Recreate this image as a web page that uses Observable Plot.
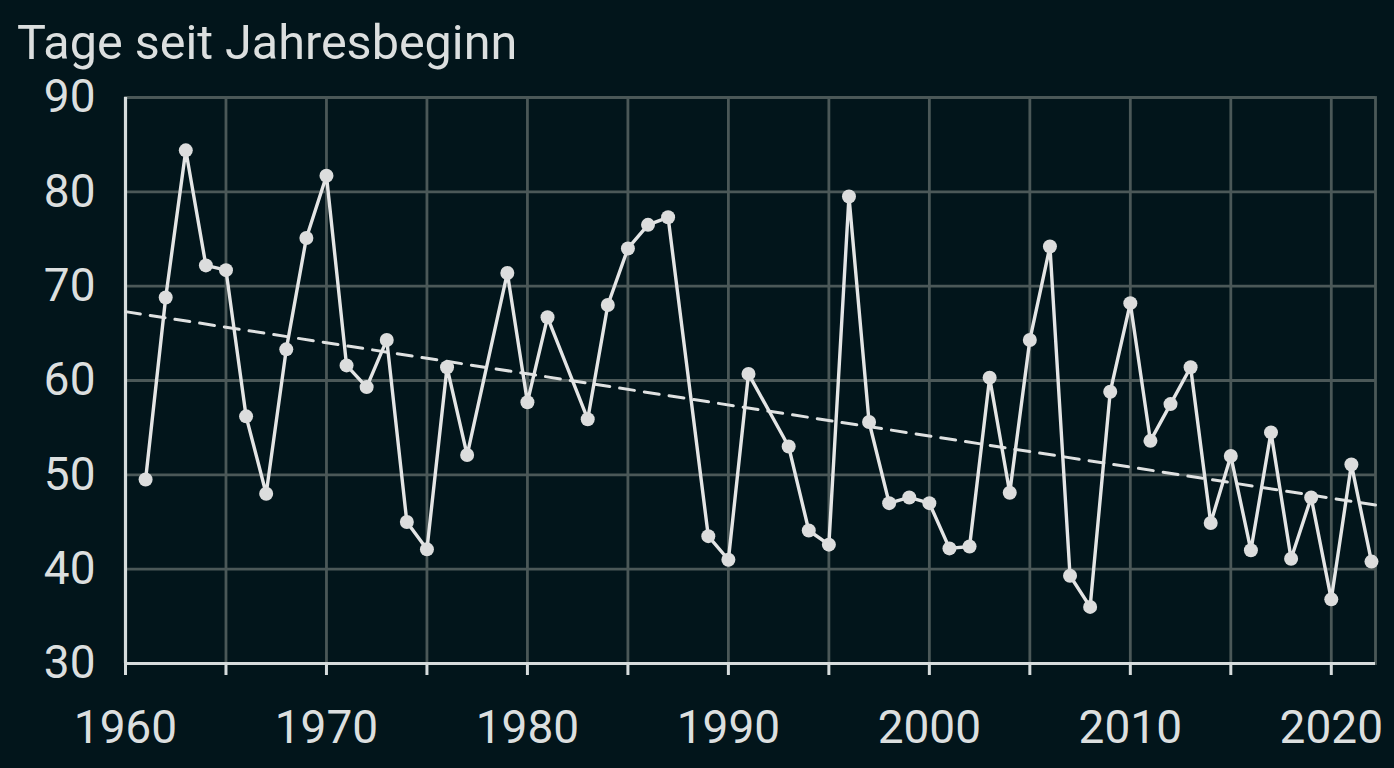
<!DOCTYPE html>
<html><head><meta charset="utf-8">
<script src="https://cdn.jsdelivr.net/npm/d3@7"></script>
<script src="https://cdn.jsdelivr.net/npm/@observablehq/plot@0.6"></script>
<style>
html,body{margin:0;padding:0;background:#02151b;}
#wrap{position:relative;width:1394px;height:768px;overflow:hidden;background:#02151b;}
#chart{position:absolute;left:0;top:0;}
#title{position:absolute;left:17px;top:19px;font-family:Roboto,sans-serif;font-size:48.5px;line-height:48.5px;color:#dcdfdf;white-space:nowrap;z-index:2;}
</style></head><body>
<div id="wrap"><div id="chart"></div><div id="title">Tage seit Jahresbeginn</div></div>
<script>
const years = [1961,1962,1963,1964,1965,1966,1967,1968,1969,1970,1971,1972,1973,1974,1975,1976,1977,1979,1980,1981,1983,1984,1985,1986,1987,1989,1990,1991,1993,1994,1995,1996,1997,1998,1999,2000,2001,2002,2003,2004,2005,2006,2007,2008,2009,2010,2011,2012,2013,2014,2015,2016,2017,2018,2019,2020,2021,2022];
const values = [49.5,68.8,84.4,72.2,71.7,56.2,48.0,63.3,75.1,81.7,61.6,59.3,64.3,45.0,42.1,61.4,52.1,71.4,57.7,66.7,55.9,68.0,74.0,76.5,77.3,43.5,41.0,60.7,53.0,44.1,42.6,79.5,55.6,47.0,47.6,47.0,42.2,42.4,60.3,48.1,64.3,74.2,39.3,36.0,58.8,68.2,53.6,57.5,61.4,44.9,52.0,42.0,54.5,41.1,47.6,36.8,51.1,40.8];
const trendYears = [1960, 2022.2];
const trendValues = [67.3, 46.8];
const xTicks = [1960,1965,1970,1975,1980,1985,1990,1995,2000,2005,2010,2015,2020];
const yTicks = [30,40,50,60,70,80,90];

const data = years.map((y, i) => ({year: y, value: values[i]}));
const trend = trendYears.map((y, i) => ({year: y, value: trendValues[i]}));

const gridColor = "#4b5858";
const axisColor = "#d6dcdc";
const textColor = "#dcdfdf";

const chart = Plot.plot({
  width: 1394, height: 768,
  marginLeft: 125, marginRight: 19, marginTop: 97, marginBottom: 105,
  style: {background: "#02151b", color: textColor, fontFamily: "Roboto, sans-serif", fontSize: "46px"},
  x: {domain: [1960, 2022.2]},
  y: {domain: [30, 90]},
  marks: [
    Plot.gridX(xTicks, {stroke: gridColor, strokeOpacity: 1, strokeWidth: 2.8}),
    Plot.gridY(yTicks, {stroke: gridColor, strokeOpacity: 1, strokeWidth: 2.8}),
    Plot.frame({stroke: gridColor, strokeWidth: 2.8}),
    Plot.axisX(xTicks, {tickSize: 12, tickPadding: 35, tickFormat: d => d % 10 === 0 ? String(d) : "", stroke: axisColor, strokeWidth: 3, fontSize: 46, fill: textColor, label: null}),
    Plot.axisY(yTicks, {tickSize: 0, tickPadding: 30, fontSize: 46, fill: textColor, label: null}),
    Plot.ruleX([1960], {stroke: axisColor, strokeWidth: 3.2}),
    Plot.ruleY([30], {stroke: axisColor, strokeWidth: 3.2}),
    Plot.line(trend, {x: "year", y: "value", stroke: "#dfe1e1", strokeWidth: 3, strokeDasharray: "15,10"}),
    Plot.line(data, {x: "year", y: "value", stroke: "#e4e5e5", strokeWidth: 3.4}),
    Plot.dot(data, {x: "year", y: "value", r: 7, fill: "#dcdddd", stroke: "none"})
  ]
});
document.getElementById("chart").appendChild(chart);
</script>
</body></html>
